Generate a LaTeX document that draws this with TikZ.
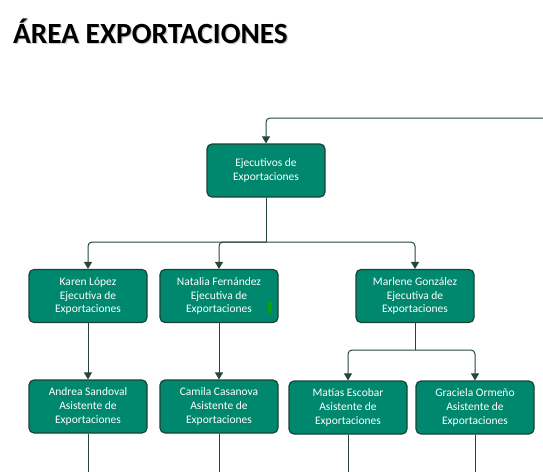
\documentclass[tikz,border=0pt]{standalone}
\usepackage{fontspec}
\setmainfont{Carlito}
\usetikzlibrary{arrows.meta,calc}
\definecolor{boxfill}{RGB}{0,136,110}
\definecolor{boxedge}{RGB}{28,66,52}
\definecolor{linec}{RGB}{38,70,56}
\definecolor{marker}{RGB}{10,160,20}
\begin{document}
\begin{tikzpicture}[x=1pt,y=-1pt,
  pbox/.style={draw=boxedge,line width=1.2pt,fill=boxfill,rounded corners=5pt,
    minimum width=118pt,minimum height=53pt,inner sep=0pt,align=center,
    text=white,font=\fontsize{11.5}{13.8}\selectfont},
  conn/.style={draw=linec,line width=1pt,rounded corners=4pt},
  arr/.style={conn,-{Triangle[width=8pt,length=7pt]}}]
\useasboundingbox (0,0) rectangle (543,471);
% title
\node[anchor=base west,inner sep=0pt,text=black!35,opacity=0.6,font=\fontsize{29.3}{33}\selectfont\bfseries] (tshadow) at (14.2,44.3) {ÁREA EXPORTACIONES};
\node[anchor=base west,inner sep=0pt,font=\fontsize{29.3}{33}\selectfont\bfseries] (title) at (13,43) {ÁREA EXPORTACIONES};
% boxes
\node[pbox] (eje) at (266,170.5) {Ejecutivos de\\Exportaciones};
\node[pbox] (kar) at (88,296) {Karen López\\Ejecutiva de\\Exportaciones};
\node[pbox] (nat) at (219,296) {Natalia Fernández\\Ejecutiva de\\Exportaciones};
\node[pbox] (mar) at (415,296) {Marlene González\\Ejecutiva de\\Exportaciones};
\node[pbox] (and) at (88,406.5) {Andrea Sandoval\\Asistente de\\Exportaciones};
\node[pbox] (cam) at (219,406.5) {Camila Casanova\\Asistente de\\Exportaciones};
\node[pbox] (mat) at (348,407.5) {Matías Escobar\\Asistente de\\Exportaciones};
\node[pbox] (gra) at (475,407.5) {Graciela Ormeño\\Asistente de\\Exportaciones};
% small marker inside Natalia box
\fill[marker] (268,302) rectangle (272,313);
% coordinates
\coordinate (in) at (545,118);
\coordinate (j1) at (266,242);
\coordinate (j2) at (415,350);
\coordinate (bot) at (0,473);
% connectors
\draw[arr] (in) -| (eje.north);
\draw[conn] (eje.south) -- (j1);
\draw[arr] (j1) -| (kar.north);
\draw[arr] (j1) -| (nat.north);
\draw[arr] (j1) -| (mar.north);
\draw[arr] (kar.south) -- (and.north);
\draw[arr] (nat.south) -- (cam.north);
\draw[conn] (mar.south) -- (j2);
\draw[arr] (j2) -| (mat.north);
\draw[arr] (j2) -| (gra.north);
\draw[conn] (and.south) -- (and.south |- bot);
\draw[conn] (cam.south) -- (cam.south |- bot);
\draw[conn] (mat.south) -- (mat.south |- bot);
\draw[conn] (gra.south) -- (gra.south |- bot);
\end{tikzpicture}
\end{document}
